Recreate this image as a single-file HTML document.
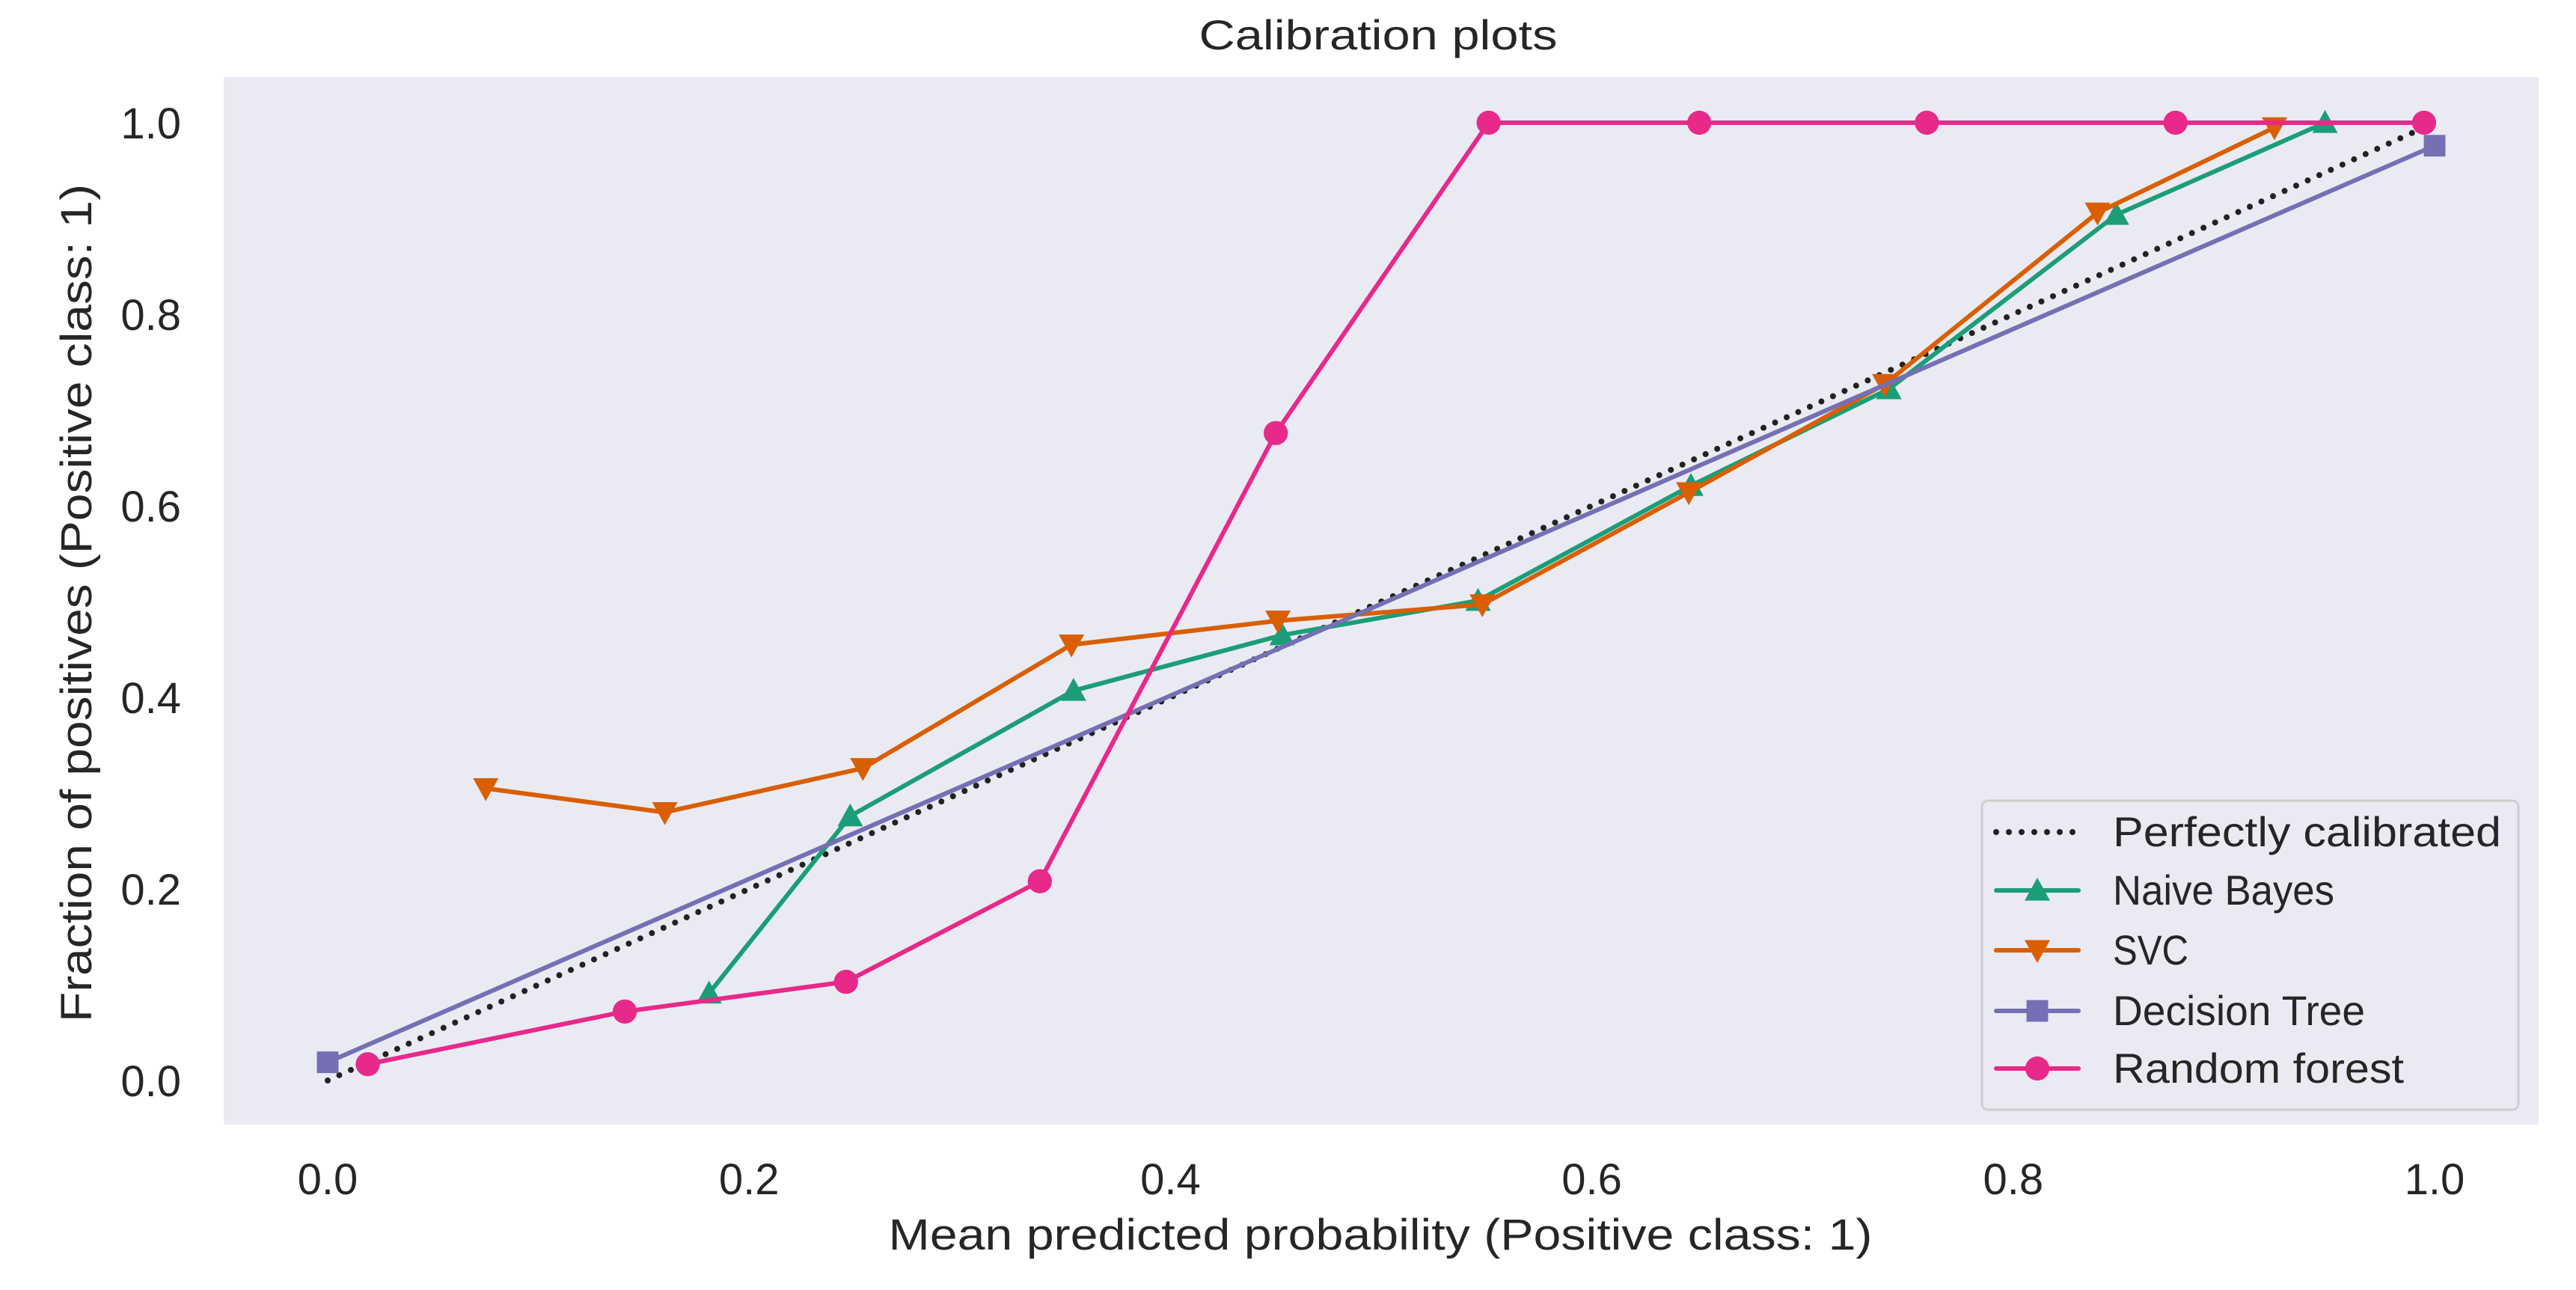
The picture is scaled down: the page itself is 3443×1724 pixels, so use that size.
<!DOCTYPE html>
<html><head><meta charset="utf-8"><style>
html,body{margin:0;padding:0;background:#fff;}
svg{display:block;font-family:"Liberation Sans","DejaVu Sans",sans-serif;}
</style></head><body>
<svg id="chart" width="3443" height="1724" viewBox="0 0 3443 1724">
<rect x="299" y="103" width="3094" height="1400" fill="#eaeaf2"/>
<text x="1842" y="66" font-size="56" fill="#262626" text-anchor="middle" textLength="479" lengthAdjust="spacingAndGlyphs">Calibration plots</text>
<text x="1845" y="1670" font-size="58" fill="#262626" text-anchor="middle" textLength="1315" lengthAdjust="spacingAndGlyphs">Mean predicted probability (Positive class: 1)</text>
<text transform="translate(122,806) rotate(-90)" font-size="58" fill="#262626" text-anchor="middle" textLength="1120" lengthAdjust="spacingAndGlyphs">Fraction of positives (Positive class: 1)</text>
<g id="xticks"></g><g id="yticks"></g>
<g id="series"></g>
<g id="legend">
<rect x="2649" y="1070" width="717" height="413" rx="8" fill="#eaeaf2" stroke="#cccccc" stroke-width="3" opacity="0.9"/>
</g>
</svg>
<script>
const xTicks=[0,0.2,0.4,0.6,0.8,1.0];
const yTicks=[0,0.2,0.4,0.6,0.8,1.0];
const nbX=[0.181,0.248,0.354,0.453,0.546,0.647,0.741,0.849,0.948];
const nbY=[0.091,0.276,0.407,0.465,0.501,0.621,0.722,0.904,1.0];
const svcX=[0.075,0.160,0.254,0.353,0.451,0.548,0.646,0.739,0.840,0.924];
const svcY=[0.305,0.280,0.326,0.455,0.480,0.497,0.614,0.727,0.906,0.995];
const dtX=[0.0,1.0];
const dtY=[0.019,0.976];
const rfX=[0.019,0.141,0.246,0.338,0.450,0.551,0.651,0.759,0.877,0.995];
const rfY=[0.017,0.072,0.103,0.208,0.676,1.0,1.0,1.0,1.0,1.0];
const perfX=[0,1];
const perfY=[0,1];
const seriesNames=["Perfectly calibrated","Naive Bayes","SVC","Decision Tree","Random forest"];

const NS="http://www.w3.org/2000/svg";
const sx=v=>438+v*2816;
const sy=v=>1444-v*1280;
function mk(tag,attrs,parent){const e=document.createElementNS(NS,tag);for(const k in attrs)e.setAttribute(k,attrs[k]);parent.appendChild(e);return e;}
const xt=document.getElementById('xticks'),yt=document.getElementById('yticks');
xTicks.forEach(v=>{const t=mk('text',{x:sx(v),y:1596,'font-size':58,fill:'#262626','text-anchor':'middle'},xt);


t.textContent=v.toFixed(1);});
yTicks.forEach(v=>{const t=mk('text',{x:242,y:sy(v)+21,'font-size':58,fill:'#262626','text-anchor':'end'},yt);


t.textContent=v.toFixed(1);});

function marker(g,type,cx,cy,color,s){let e;
 if(type==='tri'){e=mk('polygon',{points:`${cx},${cy-s} ${cx-s},${cy+s*0.8} ${cx+s},${cy+s*0.8}`,fill:color},g);}
 else if(type==='vtri'){e=mk('polygon',{points:`${cx},${cy+s} ${cx-s},${cy-s*0.8} ${cx+s},${cy-s*0.8}`,fill:color},g);}
 else if(type==='sq'){e=mk('rect',{x:cx-s*0.85,y:cy-s*0.85,width:s*1.7,height:s*1.7,fill:color},g);}
 else {e=mk('circle',{cx:cx,cy:cy,r:s*0.95,fill:color},g);}
 return e;}
const sg=document.getElementById('series');
function drawSeries(xs,ys,color,type,name,dotted){
 const g=mk('g',{},sg);
 
 
 const pts=xs.map((x,i)=>sx(x)+','+sy(ys[i])).join(' ');
 const l=mk('polyline',{points:pts,fill:'none',stroke:color,'stroke-width':6,'stroke-linejoin':'round','stroke-linecap':'round'},g);
 if(dotted){l.setAttribute('stroke-dasharray','0 17');l.setAttribute('stroke-width','8');}
 
 
 if(type) xs.forEach((x,i)=>{const m=marker(g,type,sx(x),sy(ys[i]),color,17);
  
  });
}
drawSeries(perfX,perfY,'#222','', 'perfectly-calibrated-series',true);
drawSeries(nbX,nbY,'#1b9e77','tri','naive-bayes-series');
drawSeries(svcX,svcY,'#d95f02','vtri','svc-series');
drawSeries(dtX,dtY,'#7570b3','sq','decision-tree-series');
drawSeries(rfX,rfY,'#e7298a','circ','random-forest-series');

const lg=document.getElementById('legend');
const legColors=['#222','#1b9e77','#d95f02','#7570b3','#e7298a'];
const legTypes=['','tri','vtri','sq','circ'];
const legY=[1112,1190,1270,1351,1428];
const legLen=[519,296,101,337,389];
seriesNames.forEach((n,i)=>{
 const g=mk('g',{},lg);
 
 
 const l=mk('line',{x1:2668,y1:legY[i],x2:2778,y2:legY[i],stroke:legColors[i],'stroke-width':i===0?8:6,'stroke-linecap':'round'},g);
 if(i===0)l.setAttribute('stroke-dasharray','0 17');
 if(legTypes[i])marker(g,legTypes[i],2723,legY[i],legColors[i],17);
 const t=mk('text',{x:2824,y:legY[i]+19,'font-size':56,fill:'#262626',textLength:legLen[i],lengthAdjust:'spacingAndGlyphs'},g);
 t.textContent=n;
});
</script>
</body></html>
